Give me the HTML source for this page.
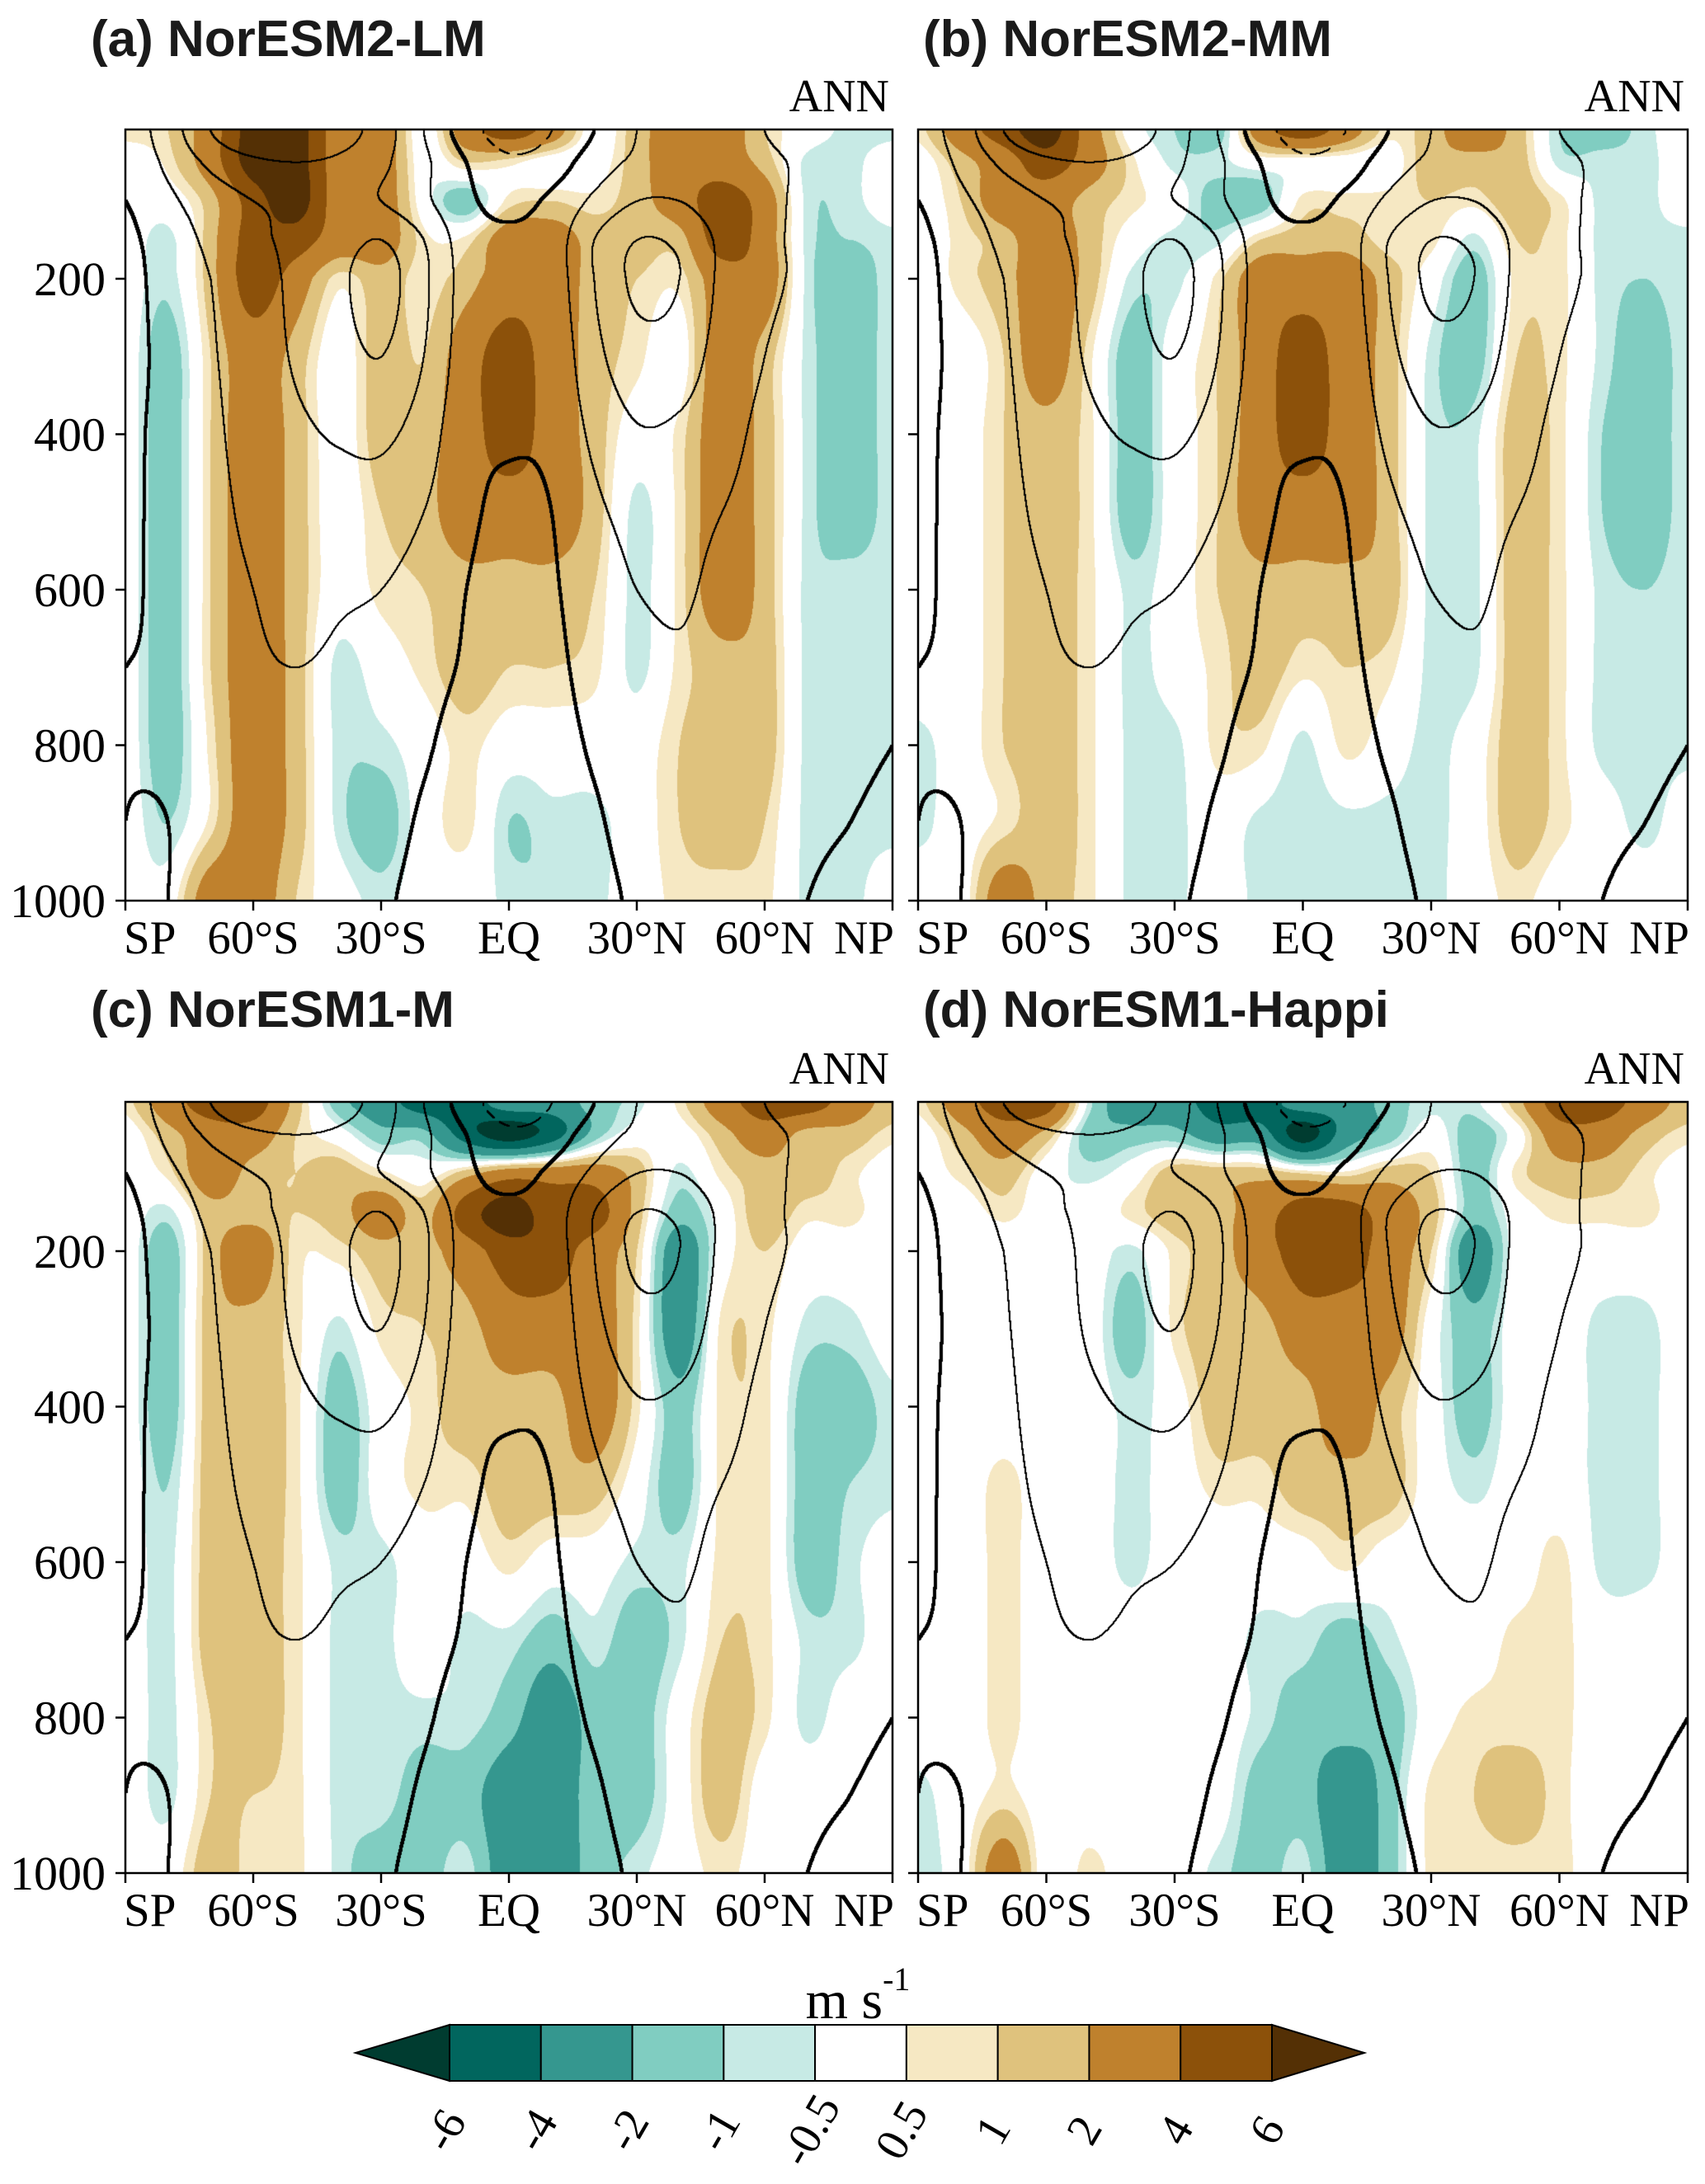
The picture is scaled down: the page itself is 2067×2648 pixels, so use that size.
<!DOCTYPE html>
<html><head><meta charset="utf-8">
<style>
html,body{margin:0;padding:0;background:#fff;}
#root{position:relative;width:2067px;height:2648px;overflow:hidden;background:#fff;}
canvas{position:absolute;}
svg{position:absolute;left:0;top:0;}
</style></head>
<body>
<div id="root">
<canvas id="cva"></canvas>
<canvas id="cvb"></canvas>
<canvas id="cvc"></canvas>
<canvas id="cvd"></canvas>
<svg id="ov" width="2067" height="2648"></svg>
</div>
<script>
const lats=[-90,-80,-70,-60,-50,-40,-30,-20,-10,0,10,20,30,40,50,60,70,80,90];
const levels=[10,50,100,150,200,300,400,500,600,700,800,900,1000];
const yTickValues=[200,400,600,800,1000];
const xTickLats=[-90,-60,-30,0,30,60,90];
const xTickLabels=["SP","60°S","30°S","EQ","30°N","60°N","NP"];
const colorBounds=[-6,-4,-2,-1,-0.5,0.5,1,2,4,6];
const colorbarTickLabels=["-6","-4","-2","-1","-0.5","0.5","1","2","4","6"];
const colors=["#003c30","#01665e","#35978f","#80cdc1","#c7eae5","#ffffff","#f6e8c3","#dfc27d","#bf812d","#8c510a","#543005"];
const contourLevels=[-10,0,10,20,30];
const anomA=[
[0.7,0,0,0,0,0,0,0,0,0,0,0,0],
[1,0.7,0,-0.7,-0.8,-1.5,-1.5,-1.5,-1.5,-1.5,-1.5,-1,0],
[3,3,1.5,1.5,1.5,1,1,1,1,1,0.7,0.7,3],
[7,7,5,5,5,3,3,3,3,3,3,3,3],
[7,7,7,5,3,1.5,1.5,1.5,1.5,1.5,1.5,1.5,1],
[3,3,3,3,0.7,0,0,0,0,-0.7,-0.7,-0.7,0],
[3,3,3,3,1.5,1.5,1.5,1,0.7,0,-0.7,-1.5,-0.7],
[0,0,0,0.7,0.7,1,1.5,1.5,1,0.7,0,0,0],
[3,1,-1.5,0.7,1.5,3,3,3,1.5,1.5,0.7,0.7,0],
[5,0.7,0.7,3,3,5,5,3,1.5,1,0,-1,-0.7],
[3,0,1,3,3,3,3,3,1.5,1,0,-0.7,-1],
[0,0,0.7,1.5,1.5,1.5,1.5,1.5,1,0.7,0,-0.7,-0.7],
[1.5,1.5,1.5,1.5,1,0.7,0,-0.7,-0.7,-0.7,0,0,0],
[3,3,3,1.5,0.7,0,0.7,0.7,0.7,0.7,1,1,0.7],
[3,3,5,5,3,3,3,3,3,1.5,1.5,1.5,0.7],
[1,1.5,3,3,3,1.5,1.5,1.5,1.5,1.5,1.5,1,0.7],
[0,-0.7,-0.7,-0.7,-0.7,-0.7,-0.7,-0.7,-0.7,-0.7,-0.7,-0.7,-0.7],
[-0.7,-0.7,-0.7,-1,-1.5,-1.5,-1.5,-1.5,-0.7,-0.7,-0.7,-0.7,-0.7],
[-0.7,0,0,-0.7,-0.7,-0.7,-0.7,-0.7,-0.7,-0.7,-0.7,-0.7,0]];
const anomB=[
[0.7,0,0,0,0,0,0,0,0,0,-0.7,-0.7,0],
[3,1.5,1,0.7,0.7,0,0,0,0,0,0,0,0],
[5,3,3,1.5,1.5,1,1,1,1,1,1,0.7,3],
[7,5,3,3,3,3,1.5,1.5,1.5,1.5,1.5,1.5,1.5],
[3,3,1.5,1.5,1.5,0.7,0.7,0.7,0.7,0.7,0.7,0.7,0.7],
[0,0.7,0.7,0,-0.7,-1.5,-1.5,-1.5,-0.7,-0.7,-0.7,-0.7,-0.7],
[-1,-0.7,0,-0.7,-0.7,0,0,0,0,0,-0.7,-0.7,-0.7],
[-1.5,-0.7,-1.5,-0.7,0.7,1,1,1,1,0.7,0.7,0,0],
[3,0,-1.5,1,3,3,3,3,1.5,1.5,0.7,-0.7,-0.7],
[5,0,0.7,1.5,3,5,5,3,1.5,0.7,-0.7,-1,-0.7],
[3,0,0.7,1.5,3,3,3,3,1.5,1,0.7,-0.7,-0.7],
[0.7,0,0.7,0.7,1.5,1.5,1.5,1.5,1.5,0.7,0,-0.7,-0.7],
[1.5,1.5,1,0.7,0,-0.7,-0.7,-0.7,-0.7,-0.7,-0.7,-0.7,-0.7],
[3,1.5,0.7,-0.7,-1.5,-1.5,-0.7,-0.7,-0.7,-0.7,0,0,0],
[1.5,1.5,1.5,1,0.7,1,1.5,1.5,1.5,1.5,1.5,1.5,0.7],
[-1,-0.7,0.7,0.7,0.7,0.7,0.7,0.7,0.7,0.7,0.7,0.7,0],
[-1.5,-0.7,-0.7,-0.7,-0.7,-0.7,-1,-1,-0.7,-0.7,-0.7,0,0],
[-0.7,-0.7,-0.7,-0.7,-1,-1.5,-1.5,-1.5,-1,-0.7,-0.7,-0.7,0],
[0,0,0,-0.7,-0.7,-0.7,-0.7,-0.7,-0.7,-0.7,-0.7,0,0]];
const anomC=[
[0.7,0,0,0,0,0,0,0,0,0,0,0,0],
[3,1.5,0.7,-0.7,-1.5,-1.5,-1.5,-1,-0.7,-0.7,-0.7,-0.7,0],
[5,3,3,1.5,1.5,1.5,1.5,1.5,1.5,1.5,1,1,1.5],
[5,3,1.5,1.5,3,1.5,1.5,1.5,1.5,1.5,1.5,1,0.7],
[1.5,1,1,1,0.7,0.7,0.7,0.7,0.7,0.7,0.7,0.7,0.7],
[-1.5,0,1.5,1.5,0.7,-0.7,-1.5,-1.5,-0.7,-0.7,-0.7,-0.7,-0.7],
[-3,-1.5,0.7,3,1.5,0.7,0,0,-0.7,-0.7,-0.7,-0.7,-1.5],
[-5,-1.5,0,1.5,1.5,1,0.7,0.7,0,0,-0.7,-1.5,-1.5],
[-5,-5,1.5,5,3,1.5,1.5,0.7,0,-0.7,-0.7,-1.5,-0.7],
[-3,-7,3,7,5,3,1.5,1.5,0.7,-0.7,-1.5,-3,-3],
[-3,-5,3,5,5,3,1.5,1.5,0,-1.5,-3,-3,-3],
[-1.5,-1.5,3,5,3,3,3,1.5,0,-0.7,-1.5,-1.5,-1.5],
[-0.7,0,1.5,1.5,1,0.7,0.7,0,-0.7,-1.5,-1.5,-1.5,-0.7],
[0.7,0,-0.7,-1.5,-3,-3,-1.5,-1.5,-0.7,-0.7,0,0,0],
[3,1.5,0.7,0,0,0.7,0.7,0.7,0.7,1,1.5,1.5,0.7],
[5,3,1.5,1.5,1,0.7,0.7,0.7,0.7,0.7,0.7,0,0],
[5,1.5,1.5,0.7,0,-0.7,-1.5,-1.5,-1.5,-0.7,-0.7,0,0],
[3,1.5,0.7,0.7,0,-0.7,-1.5,-1,-0.7,-0.7,0,0,0],
[1.5,0.7,0,0,0,0,-0.7,-0.7,0,0,0,0,0]];
const anomD=[
[0.7,0,0,0,0,0,0,0,0,0,0,-0.7,-0.7],
[3,1.5,0.7,0,0,0,0,0,0,0,0,0,0],
[5,3,1.5,0.7,0,0,0,0.7,0.7,0.7,0.7,0.7,3],
[5,1.5,0,0,0,0,0,0,0,0,0,0,0],
[-0.7,-1.5,-0.7,0,0,0,0,0,0,0,0,0,0.7],
[-3,-1.5,0,0.7,-0.7,-1.5,-0.7,-0.7,-0.7,0,0,0,0],
[-3,-1.5,1.5,1.5,0.7,0.7,0,0,0,0,0,0,0],
[-5,-3,1.5,1.5,1.5,1.5,1.5,0.7,0,0,0,0,-0.7],
[-5,-3,1.5,3,3,1.5,1.5,0.7,0,-0.7,-0.7,-1.5,-1.5],
[-3,-7,1,5,5,3,1.5,1.5,0,-0.7,-1.5,-1.5,-0.7],
[-3,-3,0.7,5,5,3,3,1.5,0.7,-1.5,-1.5,-3,-3],
[-1.5,-1.5,1.5,3,3,3,1.5,1.5,0,-0.7,-1.5,-1.5,-1.5],
[-0.7,0,1,1.5,1,0,0,0,0,0,0,0.7,0.7],
[-0.7,-1.5,-1.5,-1.5,-3,-1.5,-1.5,-0.7,0,0,0.7,1,0.7],
[1.5,0,0.7,0,0,0,0,0,0,0.7,0.7,1.5,0.7],
[5,3,1.5,0.7,0,0,0,0,0.7,0.7,0.7,0.7,0.7],
[5,3,1.5,0.7,0,-0.7,-0.7,-0.7,-0.7,0,0,0,0],
[3,1.5,0.7,0.7,0,-0.7,-0.7,-0.7,-0.7,0,0,0,0],
[1.5,0.7,0,0,0,0,0,0,0,0,0,0,0]];
const climU=[
[5,15,30,40,40,35,25,10,-5,-15,-10,0,10,15,15,10,5,3,0],
[3,12,22,28,30,28,22,12,0,-8,-5,5,12,15,15,12,8,4,0],
[0,8,15,20,22,22,20,12,2,-3,2,12,20,20,15,12,8,4,0],
[-2,5,12,18,22,26,30,20,5,2,5,20,30,28,18,12,8,4,0],
[-3,4,10,16,22,28,34,22,6,3,5,20,32,30,18,12,8,3,0],
[-3,3,9,15,21,26,30,20,5,3,3,17,26,25,16,10,6,2,0],
[-2,3,8,14,18,21,22,15,3,1,2,12,19,18,13,8,5,2,0],
[-1,2,7,12,14,15,15,10,2,-2,0,8,13,13,10,7,4,2,0],
[-1,2,6,10,12,11,10,6,0,-4,-1,5,10,11,8,6,3,1,0],
[0,1,5,9,10,9,7,3,-1,-5,-2,3,7,9,7,5,3,1,0],
[0,1,4,8,9,7,5,1,-3,-5,-3,1,5,7,6,4,2,1,0],
[0,0,3,6,7,5,3,-1,-4,-5,-4,-1,3,5,4,3,1,0,-1],
[0,0,2,4,5,3,1,-2,-4,-5,-4,-2,1,3,2,1,0,-1,-1]];

const panels=[
 {id:'a',cv:'cva',x0:152,x1:1082,y0:157,y1:1092,title:'(a) NorESM2-LM',data:anomA,ylab:true,tx:110,ty:68},
 {id:'b',cv:'cvb',x0:1113,x1:2046,y0:157,y1:1092,title:'(b) NorESM2-MM',data:anomB,ylab:false,tx:1119,ty:68},
 {id:'c',cv:'cvc',x0:152,x1:1082,y0:1336,y1:2271,title:'(c) NorESM1-M',data:anomC,ylab:true,tx:110,ty:1245},
 {id:'d',cv:'cvd',x0:1113,x1:2046,y0:1336,y1:2271,title:'(d) NorESM1-Happi',data:anomD,ylab:false,tx:1119,ty:1245}];
const PTOP=8;
function xOf(P,lat){return P.x0+(lat+90)/180*(P.x1-P.x0);}
function yOf(P,p){return P.y1-(1000-p)/(1000-PTOP)*(P.y1-P.y0);}
function cr(a,b,c,d,t){return 0.5*((2*b)+(-a+c)*t+(2*a-5*b+4*c-d)*t*t+(-a+3*b-3*c+d)*t*t*t);}
function colIdx(lat){let f=(lat+90)/10;f=Math.max(0,Math.min(18,f));let i=Math.min(17,Math.floor(f));return [i,f-i];}
function rowIdx(p){p=Math.max(10,Math.min(1000,p));let i=0;while(i<levels.length-2&&p>levels[i+1])i++;return [i,(p-levels[i])/(levels[i+1]-levels[i])];}
function hexRgb(h){return [parseInt(h.substr(1,2),16),parseInt(h.substr(3,2),16),parseInt(h.substr(5,2),16)];}
const rgbs=colors.map(hexRgb);
function colorIndex(v){let k=0;while(k<colorBounds.length&&v>=colorBounds[k])k++;return k;}
function interpField(get,nr,nc,ci,s,ri,t){
  const rowv=[];
  for(let k=-1;k<=2;k++){
    const r=Math.max(0,Math.min(nr-1,ri+k));
    const a=get(r,Math.max(0,ci-1)),b=get(r,ci),c=get(r,Math.min(nc-1,ci+1)),d=get(r,Math.min(nc-1,ci+2));
    rowv.push(cr(a,b,c,d,s));
  }
  return cr(rowv[0],rowv[1],rowv[2],rowv[3],t);
}

panels.forEach(P=>{
  const cv=document.getElementById(P.cv);
  const W=Math.round(P.x1-P.x0),H=Math.round(P.y1-P.y0);
  cv.width=W;cv.height=H;cv.style.left=P.x0+'px';cv.style.top=P.y0+'px';
  const ctx=cv.getContext('2d');const img=ctx.createImageData(W,H);
  const U=new Float32Array(W*H);
  const colInfo=[],rowInfo=[];
  for(let x=0;x<W;x++){colInfo.push(colIdx(-90+(x+0.5)/W*180));}
  for(let y=0;y<H;y++){const p=PTOP+(y+0.5)/H*(1000-PTOP);rowInfo.push(rowIdx(p));}
  const getA=(r,c)=>P.data[c][r];
  const getU=(r,c)=>climU[r][c];
  for(let y=0;y<H;y++){
    const [ri,t]=rowInfo[y];
    for(let x=0;x<W;x++){
      const [ci,s]=colInfo[x];
      const v=interpField(getA,13,19,ci,s,ri,t);
      const col=rgbs[colorIndex(v)];
      const o=(y*W+x)*4;img.data[o]=col[0];img.data[o+1]=col[1];img.data[o+2]=col[2];img.data[o+3]=255;
      U[y*W+x]=interpField(getU,13,19,ci,s,ri,t);
    }
  }
  const dot=(x,y)=>{if(x<0||y<0||x>=W||y>=H)return;const o=(y*W+x)*4;img.data[o]=0;img.data[o+1]=0;img.data[o+2]=0;};
  contourLevels.forEach(L=>{
    const thick=L===0;
    for(let y=0;y<H-1;y++)for(let x=0;x<W-1;x++){
      const a=U[y*W+x]-L,b=U[y*W+x+1]-L,c=U[(y+1)*W+x]-L;
      if((a<0)!==(b<0)||(a<0)!==(c<0)){
        if(L<0&&((x+y)%28)>16)continue;
        const r=thick?2:1;
        for(let dy=-r+1;dy<=r;dy++)for(let dx=-r+1;dx<=r;dx++)dot(x+dx,y+dy);
      }
    }
  });
  ctx.putImageData(img,0,0);
});

const NS='http://www.w3.org/2000/svg';
const ov=document.getElementById('ov');
function el(tag,attrs,parent){const e=document.createElementNS(NS,tag);for(const k in attrs)e.setAttribute(k,attrs[k]);(parent||ov).appendChild(e);return e;}
panels.forEach(P=>{
  const g=el('g',{});
  
  
  const fr=el('rect',{x:P.x0,y:P.y0,width:P.x1-P.x0,height:P.y1-P.y0,fill:'none',stroke:'#000','stroke-width':2.5},g);
  
  
  const tt=el('text',{x:P.tx,y:P.ty,'font-family':'Liberation Sans, sans-serif','font-weight':'bold','font-size':62,fill:'#1a1a1a'},g);
  tt.textContent=P.title;
  
  
  const an=el('text',{x:P.x1-4,y:P.y0-22,'text-anchor':'end','font-family':'Liberation Serif, serif','font-size':56,fill:'#000'},g);
  an.textContent='ANN';
  
  
  yTickValues.forEach(v=>{
    const y=yOf(P,v);
    const tk=el('line',{x1:P.x0-12,x2:P.x0,y1:y,y2:y,stroke:'#000','stroke-width':2.5},g);
    
    
    if(P.ylab){
      const tl=el('text',{x:P.x0-24,y:y+20,'text-anchor':'end','font-family':'Liberation Serif, serif','font-size':58,fill:'#000'},g);
      tl.textContent=String(v);
      
      
    }
  });
  xTickLats.forEach((lat,i)=>{
    const x=xOf(P,lat);
    const tk=el('line',{x1:x,x2:x,y1:P.y1,y2:P.y1+12,stroke:'#000','stroke-width':2.5},g);
    
    
    let anchor='middle',xx=x;
    if(i===0){anchor='start';xx=x-2;}
    if(i===xTickLats.length-1){anchor='end';xx=x+2;}
    const tl=el('text',{x:xx,y:P.y1+64,'text-anchor':anchor,'font-family':'Liberation Serif, serif','font-size':57,fill:'#000'},g);
    tl.textContent=xTickLabels[i];
    
    
  });
});
(function(){
  const cb=el('g',{});
  
  
  const bx0=545,bx1=1542,by0=2455,by1=2523,tipL=431,tipR=1654;
  const n=colorBounds.length-1;const bw=(bx1-bx0)/n;
  const lt=el('polygon',{points:`${bx0},${by0} ${tipL},${(by0+by1)/2} ${bx0},${by1}`,fill:colors[0],stroke:'#000','stroke-width':2},cb);
  
  
  const rt=el('polygon',{points:`${bx1},${by0} ${tipR},${(by0+by1)/2} ${bx1},${by1}`,fill:colors[colors.length-1],stroke:'#000','stroke-width':2},cb);
  
  
  for(let i=0;i<n;i++){
    const r=el('rect',{x:bx0+i*bw,y:by0,width:bw,height:by1-by0,fill:colors[i+1],stroke:'#000','stroke-width':2},cb);
    
    
  }
  colorbarTickLabels.forEach((s,i)=>{
    const x=bx0+i*bw;
    const t=el('text',{x:0,y:0,'text-anchor':'middle','font-family':'Liberation Serif, serif','font-size':56,fill:'#000',transform:`translate(${x+10},${2592}) rotate(-60)`},cb);
    t.textContent=s;
    
    
  });
  const u=el('text',{x:1040,y:2447,'text-anchor':'middle','font-family':'Liberation Serif, serif','font-size':66,fill:'#000'},cb);
  u.textContent='m s';
  
  
  const sup=el('tspan',{dy:-34,'font-size':40},u);
  sup.textContent='-1';
})();
</script>
</body></html>
